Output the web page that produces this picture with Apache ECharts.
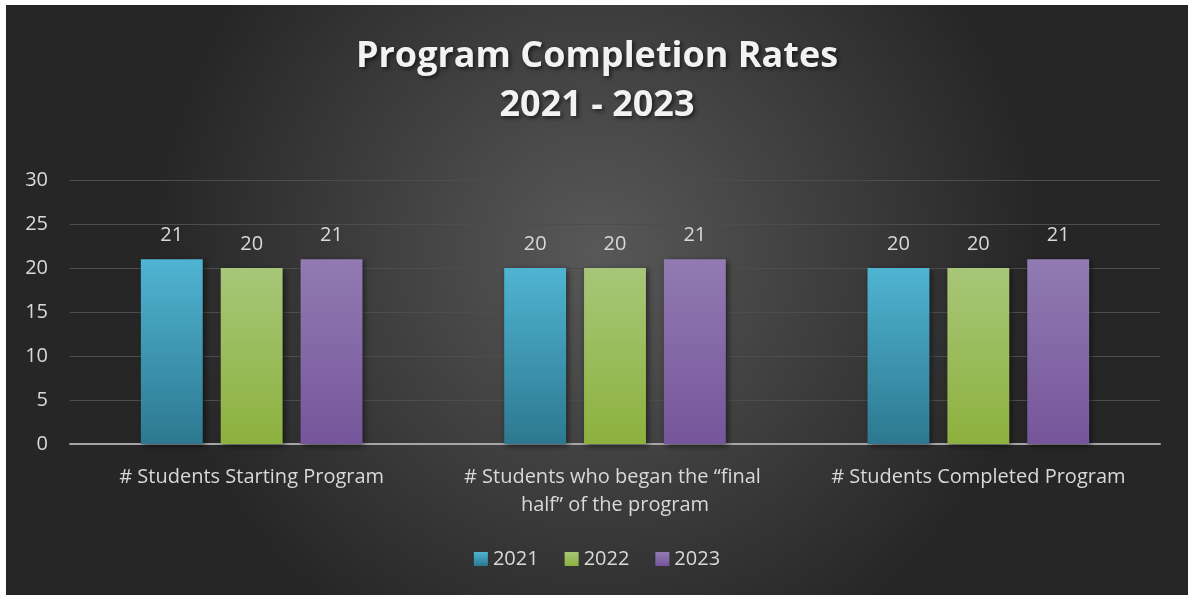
<!DOCTYPE html>
<html>
<head>
<meta charset="utf-8">
<script src="https://cdn.jsdelivr.net/npm/echarts@6.0.0/dist/echarts.min.js"></script>
<style>
  html, body { margin: 0; padding: 0; background: #ffffff; }
  #chart { position: absolute; left: 6px; top: 5px; width: 1182px; height: 590px; }
</style>
</head>
<body>
<div id="chart"></div>
<script>
// Program completion bar chart, dark Office-style theme.
var categories = [
    '# Students Starting Program',
    '# Students who began the \u201cfinal half\u201d of the program',
    '# Students Completed Program'
];
var years = ['2021', '2022', '2023'];
var values2021 = [21, 20, 20];
var values2022 = [20, 20, 20];
var values2023 = [21, 21, 21];
var yTicks = [0, 5, 10, 15, 20, 25, 30];

var FONT = '"Open Sans", sans-serif';
var TEXT = '#d9d9d9';

function grad(top, bottom) {
    return new echarts.graphic.LinearGradient(0, 0, 0, 1, [
        { offset: 0, color: top },
        { offset: 1, color: bottom }
    ]);
}

function barSeries(name, data, top, bottom) {
    return {
        name: name,
        type: 'bar',
        data: data,
        barGap: '29%',
        barCategoryGap: '39%',
        itemStyle: {
            color: grad(top, bottom),
            shadowBlur: 6,
            shadowColor: 'rgba(0,0,0,0.55)',
            shadowOffsetX: 2,
            shadowOffsetY: 2
        },
        label: {
            show: true,
            position: 'top',
            distance: 14,
            color: TEXT,
            fontFamily: FONT,
            fontSize: 20
        }
    };
}

var chart = echarts.init(document.getElementById('chart'), null, { renderer: 'canvas' });
chart.setOption({
    backgroundColor: {
        type: 'radial', x: 0.5, y: 0.42, r: 0.75,
        colorStops: [
            { offset: 0, color: '#585858' },
            { offset: 1, color: '#262626' }
        ]
    },
    animation: false,
    title: {
        text: 'Program Completion Rates\n2021 - 2023',
        left: 'center',
        top: 22,
        textStyle: {
            color: '#f2f2f2',
            fontFamily: FONT,
            fontWeight: 'bold',
            fontSize: 36,
            lineHeight: 49,
            textShadowColor: 'rgba(0,0,0,0.6)',
            textShadowBlur: 4,
            textShadowOffsetX: 2,
            textShadowOffsetY: 2
        }
    },
    legend: {
        data: years,
        bottom: 21,
        left: 'center',
        itemWidth: 14,
        itemHeight: 14,
        itemGap: 26,
        icon: 'rect',
        textStyle: { color: TEXT, fontFamily: FONT, fontSize: 20 }
    },
    grid: { left: 64, right: 28, top: 175, bottom: 151, containLabel: false },
    xAxis: {
        type: 'category',
        data: categories,
        axisTick: { show: false },
        axisLine: { lineStyle: { color: '#a6a6a6', width: 2 } },
        axisLabel: {
            color: TEXT,
            fontFamily: FONT,
            fontSize: 20,
            margin: 19,
            lineHeight: 28,
            width: 345,
            overflow: 'break',
            interval: 0
        }
    },
    yAxis: {
        type: 'value',
        min: yTicks[0],
        max: yTicks[yTicks.length - 1],
        interval: yTicks[1] - yTicks[0],
        axisLine: { show: false },
        axisTick: { show: false },
        splitLine: { lineStyle: { color: '#4d4d4d', width: 1 } },
        axisLabel: { color: TEXT, fontFamily: FONT, fontSize: 20, margin: 22 }
    },
    series: [
        barSeries(years[0], values2021, '#4fb4d2', '#2d7890'),
        barSeries(years[1], values2022, '#a7c678', '#8db13e'),
        barSeries(years[2], values2023, '#917bb2', '#76559a')
    ]
});
</script>
</body>
</html>
